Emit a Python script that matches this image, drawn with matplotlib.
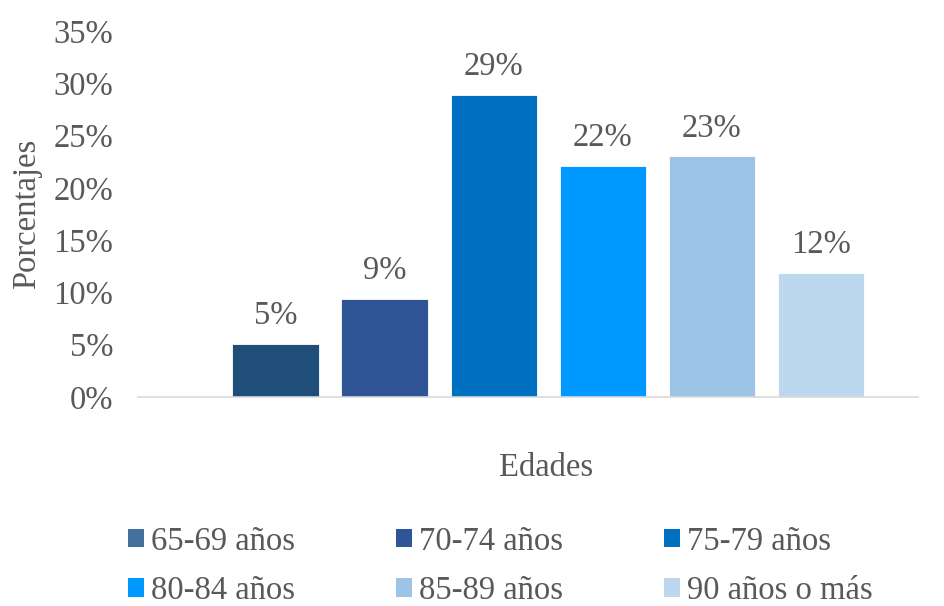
import matplotlib.pyplot as plt
from matplotlib.patches import Patch

# datos
grupos = ['65-69 años', '70-74 años', '75-79 años', '80-84 años', '85-89 años', '90 años o más']
porcentajes = [5.1, 9.4, 28.9, 22.1, 23.0, 11.9]
etiquetas = ['5%', '9%', '29%', '22%', '23%', '12%']
colores = ['#1F4E79', '#2F5597', '#0070C0', '#0099FF', '#9DC3E6', '#BDD7EE']
colores_leyenda = ['#41719C', '#2F5597', '#0070C0', '#0099FF', '#9DC3E6', '#BDD7EE']

plt.rcParams['font.family'] = ['Liberation Serif', 'DejaVu Serif']
gris = '#595959'
fs = 23.5

fig = plt.figure(figsize=(9.45, 6.06), dpi=100)
ax = fig.add_axes([138/945, 1-397/606, (918-138)/945, (397-31)/606])

x = list(range(len(grupos)))
barras = ax.bar(x, porcentajes, width=0.79, color=colores, edgecolor='white', linewidth=0.6)
for b, txt in zip(barras, etiquetas):
    ax.annotate(txt, (b.get_x() + b.get_width()/2, b.get_height()),
                xytext=(0, 9), textcoords='offset points',
                ha='center', va='bottom', fontsize=fs, color=gris)

ax.set_xlim(-1.26, 5.89)
ax.set_ylim(0, 35)
ax.set_yticks(range(0, 36, 5))
ax.set_yticklabels([f'{v}%' for v in range(0, 36, 5)])
ax.set_xticks([])
ax.tick_params(axis='y', length=0, pad=18, labelsize=fs, labelcolor=gris)
for s in ['top', 'right', 'left']:
    ax.spines[s].set_visible(False)
ax.spines['bottom'].set_color('#D9D9D9')
ax.spines['bottom'].set_linewidth(1.2)

fig.text(27/945, 1-214/606, 'Porcentajes', rotation=90, ha='center', va='center',
         fontsize=fs, color=gris)
fig.text(546/945, 1-468/606, 'Edades', ha='center', va='center', fontsize=fs, color=gris)

# leyenda por filas (matplotlib rellena por columnas)
orden = [0, 3, 1, 4, 2, 5]
handles = [Patch(facecolor=colores_leyenda[i]) for i in orden]
labels = [grupos[i] for i in orden]
leg = fig.legend(handles, labels, ncol=3, loc='center', bbox_to_anchor=(500/945, 1-566/606),
                 frameon=False, fontsize=fs, handlelength=0.49, handleheight=0.49,
                 handletextpad=0.21, columnspacing=3.1, labelspacing=0.58, labelcolor=gris,
                 borderpad=0.2)

fig.savefig('out.png', dpi=100)
